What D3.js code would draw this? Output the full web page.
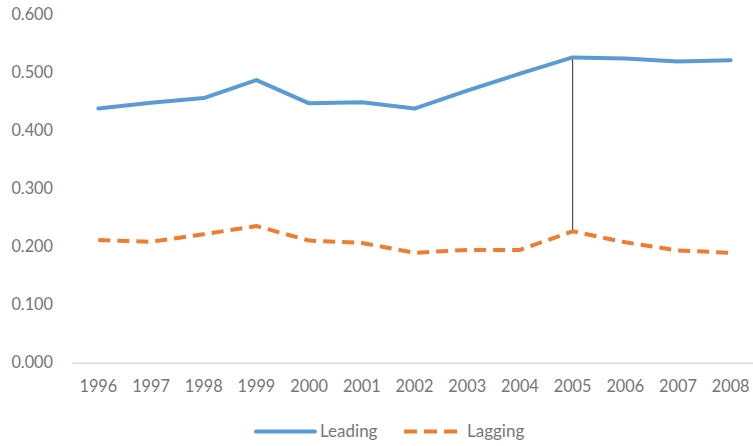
<!DOCTYPE html>
<html>
<head>
<meta charset="utf-8">
<script src="https://cdn.jsdelivr.net/npm/d3@7"></script>
<style>
  html, body { margin: 0; padding: 0; background: #fff; }
  svg { display: block; }
  text { font-family: Lato, "Open Sans", sans-serif; }
</style>
</head>
<body>
<svg id="chart" width="753" height="446"></svg>
<script>
const years = ["1996","1997","1998","1999","2000","2001","2002","2003","2004","2005","2006","2007","2008"];
const leading = [0.437, 0.447, 0.455, 0.486, 0.446, 0.448, 0.437, 0.468, 0.497, 0.525, 0.523, 0.518, 0.520];
const lagging = [0.211, 0.208, 0.221, 0.235, 0.210, 0.206, 0.189, 0.194, 0.194, 0.226, 0.207, 0.193, 0.189];
const yTicks = [0, 0.1, 0.2, 0.3, 0.4, 0.5, 0.6];
const seriesNames = ["Leading", "Lagging"];
const markerYear = "2005";

const svg = d3.select("#chart");
const x = d3.scaleBand().domain(years).range([72, 757]).paddingInner(0).paddingOuter(0);
const y = d3.scaleLinear().domain([0, 0.6]).range([362.7, 13.8]);
const cx = d => x(d) + x.bandwidth() / 2;

const textColor = "#767676";
const fontSize = "16.3px";

// Y axis labels
const yAxis = svg.append("g").attr("transform", "translate(72,0)")
  .call(d3.axisLeft(y).tickValues(yTicks).tickFormat(d3.format(".3f")).tickSize(0).tickPadding(19));
yAxis.select(".domain").remove();
yAxis.selectAll("text").attr("fill", textColor).style("font-size", fontSize).style("font-family", "Lato, 'Open Sans', sans-serif");

// X axis
const xAxis = svg.append("g").attr("transform", `translate(0,${y(0)})`)
  .call(d3.axisBottom(x).tickSize(0).tickSizeOuter(0).tickPadding(18));
xAxis.select(".domain").attr("stroke", "#d9d9d9").attr("stroke-width", 1.5);
xAxis.selectAll("text").attr("fill", textColor).style("font-size", fontSize).style("font-family", "Lato, 'Open Sans', sans-serif");

// Marker line at 2005
const mi = years.indexOf(markerYear);
svg.append("line")
  .attr("x1", cx(markerYear)).attr("x2", cx(markerYear))
  .attr("y1", y(leading[mi])).attr("y2", y(lagging[mi]))
  .attr("stroke", "#4a4a4a").attr("stroke-width", 1.2);

const line = d3.line().x((d, i) => cx(years[i])).y(d => y(d));

svg.append("path").datum(leading)
  .attr("d", line).attr("fill", "none")
  .attr("stroke", "#5b9bd5").attr("stroke-width", 4)
  .attr("stroke-linejoin", "round").attr("stroke-linecap", "round");

svg.append("path").datum(lagging)
  .attr("d", line).attr("fill", "none")
  .attr("stroke", "#ed7d31").attr("stroke-width", 4)
  .attr("stroke-dasharray", "12,7")
  .attr("stroke-linejoin", "round");

// Legend
const legY = 431.5;
const legFont = "17px";
const leg = svg.append("g");
leg.append("line").attr("x1", 256).attr("x2", 315).attr("y1", legY).attr("y2", legY)
  .attr("stroke", "#5b9bd5").attr("stroke-width", 4).attr("stroke-linecap", "round");
leg.append("text").attr("x", 320).attr("y", legY).attr("dy", "0.35em")
  .attr("fill", textColor).style("font-size", legFont).text(seriesNames[0]);
leg.append("line").attr("x1", 404).attr("x2", 457).attr("y1", legY).attr("y2", legY)
  .attr("stroke", "#ed7d31").attr("stroke-width", 4).attr("stroke-dasharray", "13,7");
leg.append("text").attr("x", 467).attr("y", legY).attr("dy", "0.35em")
  .attr("fill", textColor).style("font-size", legFont).text(seriesNames[1]);
</script>
</body>
</html>
